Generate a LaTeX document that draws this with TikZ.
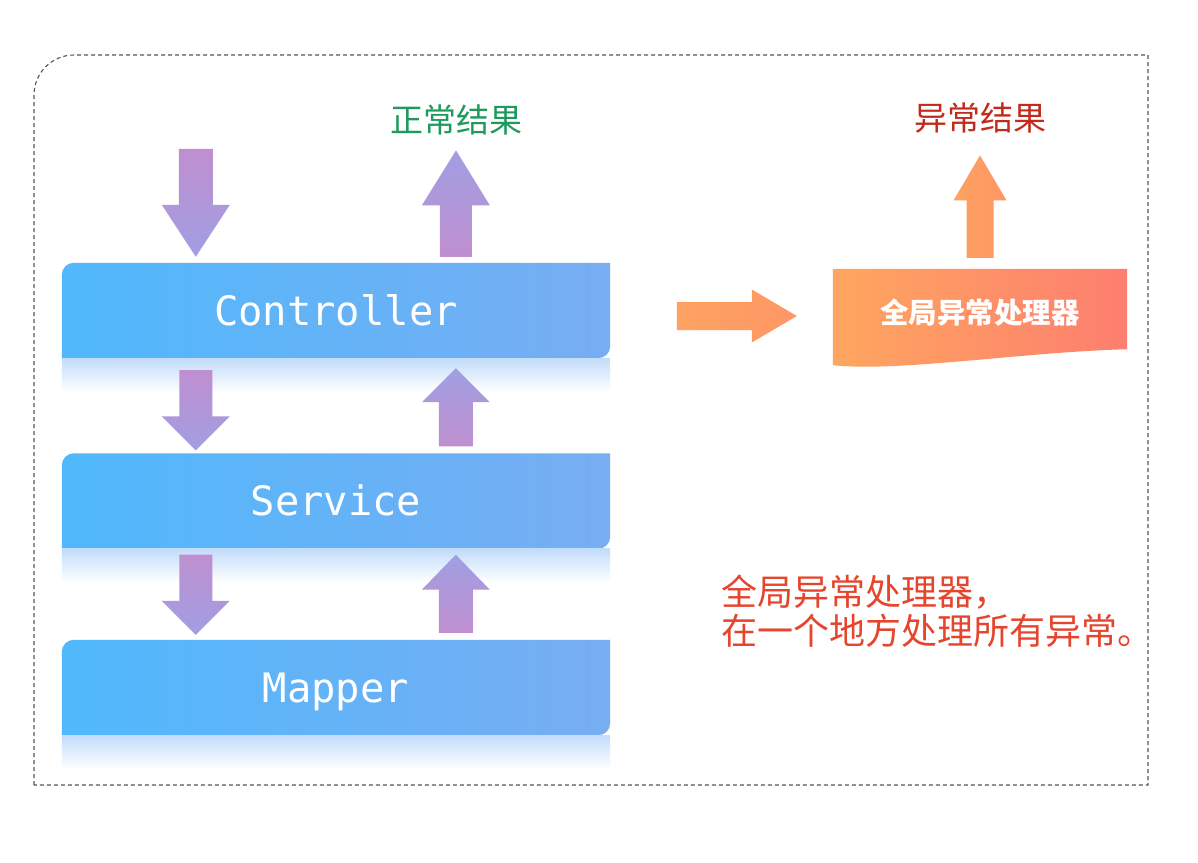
\documentclass[tikz,border=0pt]{standalone}
\usepackage{fontspec}
\setmonofont{DejaVu Sans Mono}
\newfontfamily\cjk{Noto Sans CJK SC}
\usetikzlibrary{calc, positioning, backgrounds}
\definecolor{layerleft}{HTML}{50B8FC}
\definecolor{layerright}{HTML}{78ADF2}
\definecolor{reflblue}{HTML}{C2DCFA}
\definecolor{purpleA}{HTML}{BF8FD0}
\definecolor{purpleB}{HTML}{A19EE2}
\definecolor{orangeA}{HTML}{FEA65F}
\definecolor{orangeB}{HTML}{FD7E6F}
\definecolor{okgreen}{HTML}{1D9A5C}
\definecolor{errred}{HTML}{C22A1C}
\definecolor{notered}{HTML}{E6452D}
\definecolor{framegray}{HTML}{555555}
\tikzset{
    layer/.style={minimum width=548pt, minimum height=95pt, inner sep=0pt, text height=29pt, text depth=0pt, text=white, font=\ttfamily\fontsize{40.5}{44}\selectfont},
    layerfill/.style={left color=layerleft, right color=layerright},
    reflect/.style={top color=reflblue, bottom color=white},
    handlerbox/.style={minimum width=294pt, minimum height=88pt, inner sep=0pt, text=white, font=\cjk\bfseries\fontsize{28.5}{32}\selectfont},
    handlerfill/.style={left color=orangeA, right color=orangeB},
    result/.style={inner sep=0pt, font=\cjk\fontsize{33}{36}\selectfont},
    note/.style={inner sep=0pt, align=left, text=notered, font=\cjk\fontsize{36}{38.5}\selectfont},
    downarrow/.style={top color=purpleA, bottom color=purpleB},
    uparrow/.style={top color=purpleB, bottom color=purpleA},
    orangearrow/.style={left color=orangeA!90!orangeB, right color=orangeA!60!orangeB},
    frame/.style={draw=framegray, line width=1.1pt, dash pattern=on 4pt off 3pt}
}
% #1 style, #2 tail, #3 tip, #4 half shaft, #5 half head, #6 head length
\newcommand{\blockarrow}[6]{%
    \coordinate (hb) at ($(#3)!#6!(#2)$);
    \shade[#1] ($(#2)!#4!90:(#3)$) -- ($(hb)!#4!90:(#3)$) -- ($(hb)!#5!90:(#3)$) -- (#3)
        -- ($(hb)!#5!-90:(#3)$) -- ($(hb)!#4!-90:(#3)$) -- ($(#2)!#4!-90:(#3)$) -- cycle;
}
\newcommand{\layerbg}[1]{%
    \shade[layerfill] (#1.south west) -- ($(#1.north west)+(0,12)$) arc[start angle=180, end angle=270, radius=12]
        -- (#1.north east) -- ($(#1.south east)+(0,-12)$) arc[start angle=0, end angle=90, radius=12] -- cycle;
    \shade[reflect] (#1.south west) rectangle ($(#1.south east)+(0,34)$);
}
\begin{document}
\begin{tikzpicture}[x=1pt, y=-1pt]
    \useasboundingbox (0,0) rectangle (1198,862);
    \draw[frame] (34,785) -- (34,95) arc[start angle=180, end angle=270, radius=40] -- (1148,55) -- (1148,785) -- cycle;

    \node[layer] (ctrl) at (336,310.5) {Controller};
    \node[layer] (svc) at (336,501) {Service};
    \node[layer] (mapper) at (336,687.5) {Mapper};
    \node[handlerbox] (handler) at (980,313) {全局异常处理器};
    \node[result, text=okgreen] (ok) at (456,120) {正常结果};
    \node[result, text=errred] (err) at (980,118) {异常结果};
    \node[note, anchor=north west] (note) at (721,575) {全局异常处理器，\\在一个地方处理所有异常。};

    \begin{scope}[on background layer]
        \fill[white] (0,0) rectangle (1198,862);
        \layerbg{ctrl}
        \layerbg{svc}
        \layerbg{mapper}
        \shade[handlerfill] (handler.north west) -- (handler.north east) -- ($(handler.south east)+(0,-8)$)
            .. controls ($(handler.south west)+(187,-5)$) and ($(handler.south west)+(67,15)$) .. ($(handler.south west)+(0,8)$) -- cycle;
    \end{scope}

    \coordinate (req) at ($(ctrl.north west)+(134,-114)$);
    \coordinate (resp) at ($(ok.south)+(0,15)$);
    \coordinate (thrown) at ($(handler.west)+(-156,3)$);

    \blockarrow{downarrow}{req}{$(ctrl.north west)+(134,-6)$}{17pt}{34pt}{52pt}
    \blockarrow{uparrow}{$(ctrl.north west)+(394,-6)$}{resp}{16pt}{34pt}{55pt}
    \blockarrow{downarrow}{$(ctrl.south west)+(134,12)$}{$(svc.north west)+(134,-3)$}{16.5pt}{34pt}{34pt}
    \blockarrow{uparrow}{$(svc.north west)+(394,-7)$}{$(ctrl.south west)+(394,10)$}{17pt}{34pt}{34pt}
    \blockarrow{downarrow}{$(svc.south west)+(134,6)$}{$(mapper.north west)+(134,-5)$}{16.5pt}{34pt}{34pt}
    \blockarrow{uparrow}{$(mapper.north west)+(394,-7)$}{$(svc.south west)+(394,6)$}{17pt}{34pt}{35pt}
    \blockarrow{orangearrow}{thrown}{$(handler.west)+(-36,3)$}{14pt}{26.5pt}{45pt}
    \blockarrow{orangearrow}{$(handler.north)+(0,-11)$}{$(err.south)+(0,22)$}{13.5pt}{26.5pt}{45pt}
\end{tikzpicture}
\end{document}
